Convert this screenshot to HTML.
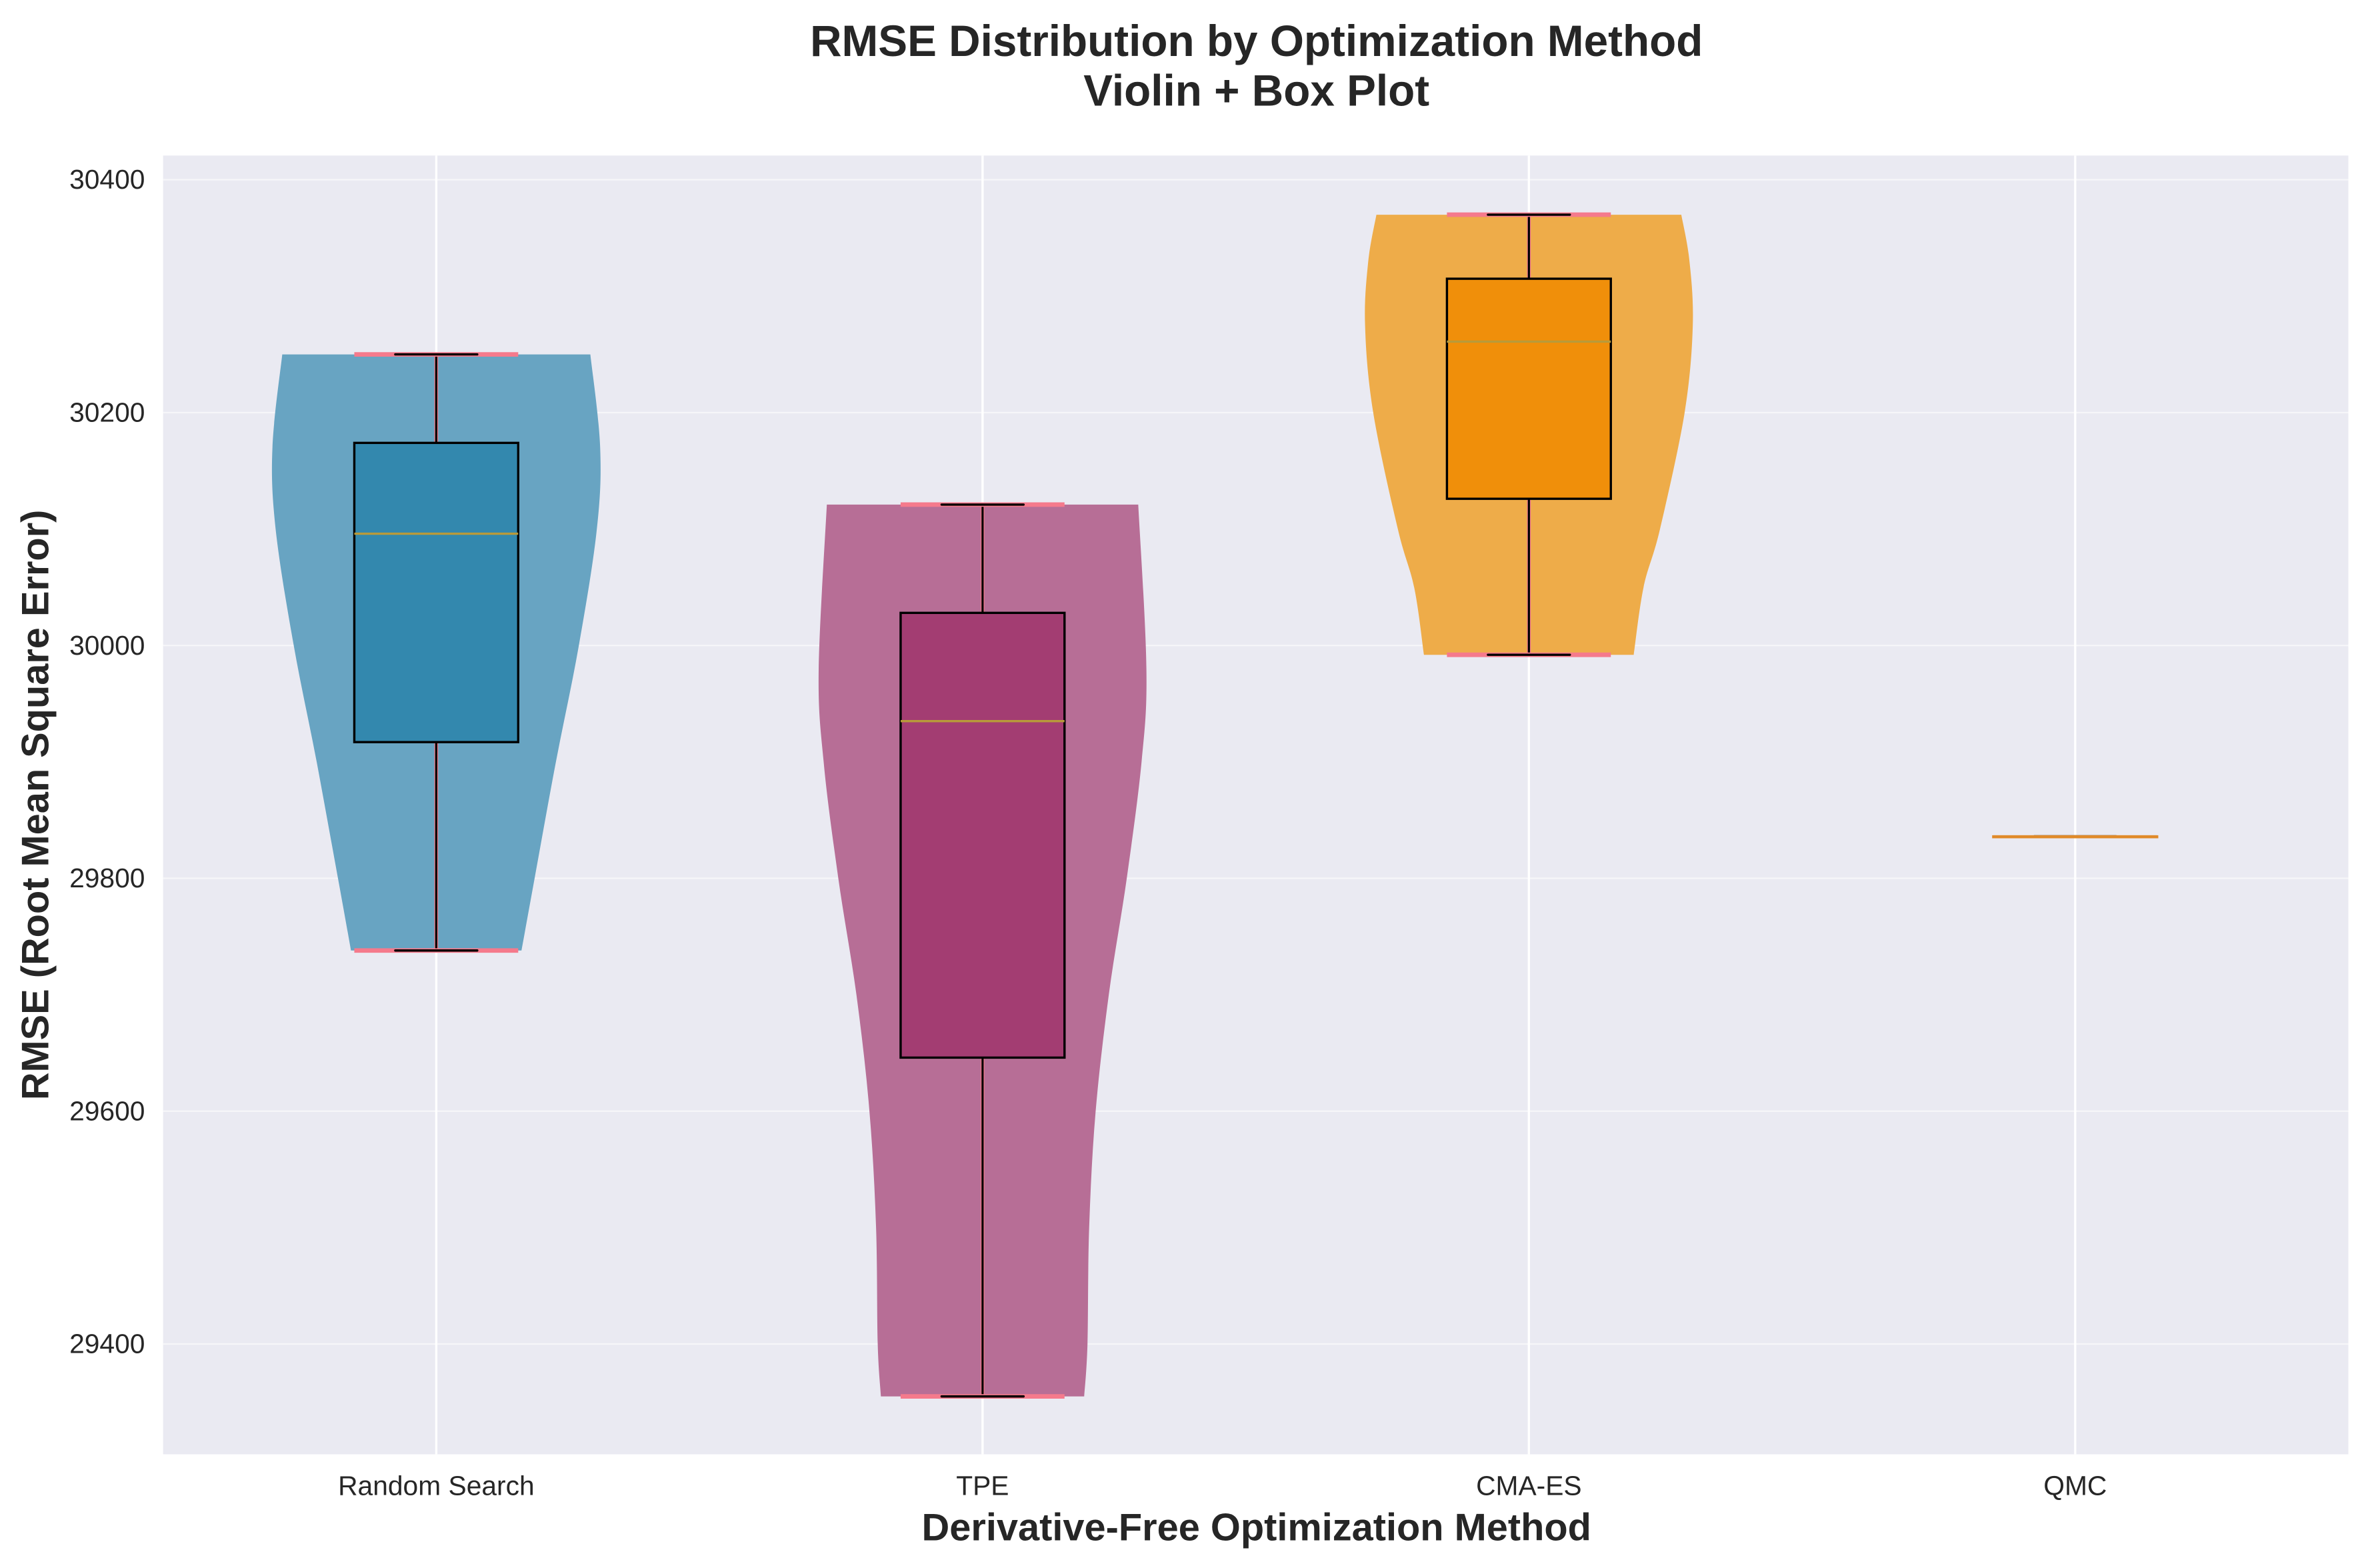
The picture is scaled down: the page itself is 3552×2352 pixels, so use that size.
<!DOCTYPE html>
<html><head><meta charset="utf-8">
<style>
html,body{margin:0;padding:0;background:#fff;}
svg{display:block;font-family:"Liberation Sans",Arial,sans-serif;}
</style></head>
<body>
<svg id="chart" width="3552" height="2352" viewBox="0 0 1568 1038.3" preserveAspectRatio="none" xmlns="http://www.w3.org/2000/svg">
<rect x="0" y="0" width="1568" height="1039" fill="#ffffff"/>
<text x="832" y="37" text-anchor="middle" font-size="29" font-weight="bold" fill="#262626">RMSE Distribution by Optimization Method</text>
<text x="832" y="70" text-anchor="middle" font-size="29" font-weight="bold" fill="#262626">Violin + Box Plot</text>
<rect x="108" y="103" width="1447" height="860" fill="#eaeaf2"/>
<g id="grid"></g>
<g id="marks"></g>
<g id="ticks"></g>
<text x="832" y="1020" text-anchor="middle" font-size="25.5" font-weight="bold" fill="#262626">Derivative-Free Optimization Method</text>
<text transform="translate(32,533) rotate(-90)" text-anchor="middle" font-size="25.5" font-weight="bold" fill="#262626">RMSE (Root Mean Square Error)</text>
</svg>
<script>
const categories = ["Random Search","TPE","CMA-ES","QMC"];
const mins    = [29738, 29355, 29992, 29836];
const q1s     = [29917, 29646, 30126, 29836];
const medians = [30096, 29935, 30261, 29836];
const q3s     = [30174, 30028, 30315, 29836];
const maxs    = [30250, 30121, 30370, 29836];
const yTicks  = [29400, 29600, 29800, 30000, 30200, 30400];
// violin density profiles: [value, relative width]
const densityRandom = [[29738,0.52],[29800,0.6],[29900,0.73],[30000,0.87],[30100,0.98],[30170,1.0],[30250,0.94]];
const densityTPE    = [[29355,0.62],[29400,0.64],[29500,0.65],[29600,0.69],[29700,0.77],[29800,0.88],[29900,0.97],[29980,1.0],[30121,0.95]];
const densityCMA    = [[29992,0.64],[30050,0.7],[30100,0.8],[30200,0.95],[30275,1.0],[30330,0.98],[30370,0.93]];
const densities = [densityRandom, densityTPE, densityCMA, null];

const violinColors = ["#68a4c2","#b76e96","#eeac49","#e08a2a"];
const boxColors    = ["#3388ae","#a33d72","#f08f0a","#e08a2a"];

const NS="http://www.w3.org/2000/svg";
const X0=108, X1=1555, Y0=103, Y1=963, VMIN=29305.3, VMAX=30420.8;
function xs(i){return X0+(i+0.5)*(X1-X0)/categories.length;}
function ys(v){return Y1-(v-VMIN)/(VMAX-VMIN)*(Y1-Y0);}
const unit=(X1-X0)/categories.length;
function mk(tag,attrs,parent){const e=document.createElementNS(NS,tag);for(const k in attrs)e.setAttribute(k,attrs[k]);parent.appendChild(e);return e;}
function smooth(pts){
  let d='M'+pts[0][0].toFixed(1)+','+pts[0][1].toFixed(1);
  for(let i=0;i<pts.length-1;i++){
    const p0=pts[Math.max(i-1,0)],p1=pts[i],p2=pts[i+1],p3=pts[Math.min(i+2,pts.length-1)];
    const c1=[p1[0]+(p2[0]-p0[0])/6,p1[1]+(p2[1]-p0[1])/6];
    const c2=[p2[0]-(p3[0]-p1[0])/6,p2[1]-(p3[1]-p1[1])/6];
    d+=' C'+c1[0].toFixed(1)+','+c1[1].toFixed(1)+' '+c2[0].toFixed(1)+','+c2[1].toFixed(1)+' '+p2[0].toFixed(1)+','+p2[1].toFixed(1);
  }
  return d;
}
const grid=document.getElementById('grid'), marks=document.getElementById('marks'), ticks=document.getElementById('ticks');

yTicks.forEach(t=>{
  const g=mk('line',{x1:X0,x2:X1,y1:ys(t),y2:ys(t),stroke:'#ffffff','stroke-width':1,'stroke-opacity':0.55},grid);
  
  
  const l=mk('text',{x:X0-12,y:ys(t)+6,'text-anchor':'end','font-size':18,fill:'#262626'},ticks);
  l.textContent=t;
  
  
});
categories.forEach((c,i)=>{
  const g=mk('line',{x1:xs(i),x2:xs(i),y1:Y0,y2:Y1,stroke:'#ffffff','stroke-width':1.5},grid);
  
  
  const l=mk('text',{x:xs(i),y:Y1+27,'text-anchor':'middle','font-size':18,fill:'#262626'},ticks);
  l.textContent=c;
  
  
});

categories.forEach((c,i)=>{
  const cx=xs(i), hw=0.3*unit, bw=0.15*unit;
  const d=densities[i];
  if(d){
    const right=d.map(p=>[cx+p[1]*hw,ys(p[0])]);
    const left=d.map(p=>[cx-p[1]*hw,ys(p[0])]).reverse();
    let path=smooth(right)+' L'+left[0][0].toFixed(1)+','+left[0][1].toFixed(1)+' '+smooth(left).slice(1).replace(/^[^C]*/,'')+' Z';
    const v=mk('path',{d:path,fill:violinColors[i],stroke:'none'},marks);
    
    
    const cb=mk('line',{x1:cx,x2:cx,y1:ys(maxs[i]),y2:ys(mins[i]),stroke:'#f07a8a','stroke-width':2.5},marks);
    
    
  }
  const w=mk('line',{x1:cx,x2:cx,y1:ys(maxs[i]),y2:ys(mins[i]),stroke:'#000',"stroke-width":1.4},marks);
  
  
  [mins[i],maxs[i]].forEach(v=>{
    if(i<3){
      const cap=mk('line',{x1:cx-bw,x2:cx+bw,y1:ys(v),y2:ys(v),stroke:'#f57a8c','stroke-width':3},marks);
      
      
    }
    const cb=mk('line',{x1:cx-bw/2,x2:cx+bw/2,y1:ys(v),y2:ys(v),stroke:'#000','stroke-width':1.5,'stroke-linecap':'round'},marks);
    
    
  });
  const bx=mk('rect',{x:cx-bw,y:ys(q3s[i]),width:2*bw,height:Math.max(ys(q1s[i])-ys(q3s[i]),0.5),fill:boxColors[i],stroke:i==3?boxColors[i]:'#000','stroke-width':1.5},marks);
  
  
  const md=mk('line',{x1:cx-bw,x2:cx+bw,y1:ys(medians[i]),y2:ys(medians[i]),stroke:i==3?'#e08a2a':'#b89a3a','stroke-width':1.5},marks);
  
  
});
</script>
</body></html>
